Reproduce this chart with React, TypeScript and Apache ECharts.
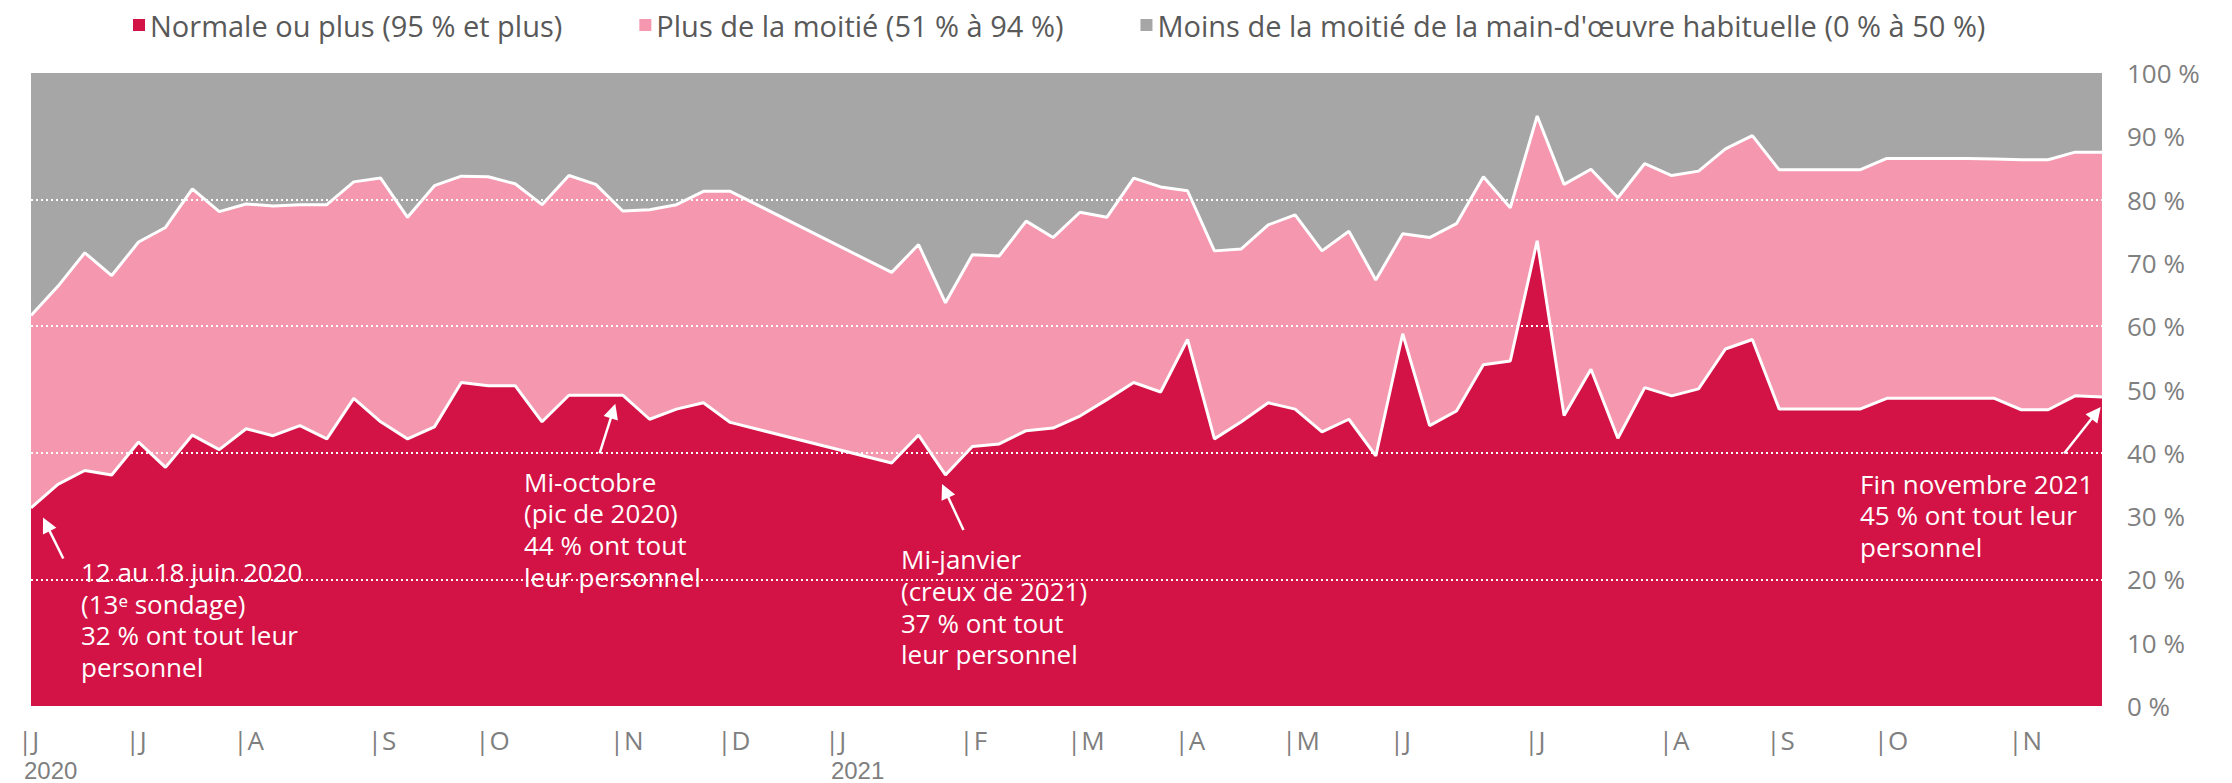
import React, { useEffect, useRef } from "react";
import * as echarts from "echarts";

const FONT = '"Open Sans", "Noto Sans", sans-serif';
const YEAR_FONT = '"Liberation Sans", Arial, sans-serif';
const CRIMSON = "#d31245";
const PINK = "#f597ae";
const GRAY = "#a6a6a6";
const TEXT_GRAY = "#7f7f7f";

const seriesNames = [
  "Normale ou plus (95 % et plus)",
  "Plus de la moitié (51 % à 94 %)",
  "Moins de la moitié de la main-d'œuvre habituelle (0 % à 50 %)",
];

// Weekly survey slots (index 0 = 12 au 18 juin 2020); null = no survey (holiday gap)
// Share of businesses with normal staffing or more (%)
const normale: (number | null)[] = [
  31.3, 35.0, 37.2, 36.5, 41.7, 37.7, 42.8, 40.5, 43.8, 42.7,
  44.3, 42.2, 48.6, 44.9, 42.2, 44.1, 51.1, 50.6, 50.6, 44.9,
  49.1, 49.1, 49.1, 45.3, 46.9, 47.9, 44.8, null, null, null,
  null, null, 38.4, 42.8, 36.5, 41.0, 41.4, 43.5, 43.9, 45.8,
  48.4, 51.1, 49.6, 57.9, 42.2, 44.9, 47.9, 46.9, 43.3, 45.3,
  39.5, 58.8, 44.3, 46.6, 53.9, 54.5, 73.5, 45.9, 53.2, 42.3,
  50.3, 49.0, 50.1, 56.4, 57.9, 46.9, 46.9, 46.9, 46.9, 48.6,
  48.6, 48.6, 48.6, 48.6, 46.8, 46.8, 49.0, 48.8,
];

// Cumulative share with more than half of the usual workforce (%)
const auMoinsMoitie: (number | null)[] = [
  61.7, 66.3, 71.6, 68.0, 73.3, 75.6, 81.7, 78.1, 79.3, 79.0,
  79.2, 79.2, 82.8, 83.4, 77.2, 82.2, 83.7, 83.6, 82.5, 79.2,
  83.8, 82.4, 78.2, 78.4, 79.2, 81.3, 81.3, null, null, null,
  null, null, 68.5, 72.9, 63.7, 71.3, 71.1, 76.6, 74.0, 78.0,
  77.2, 83.4, 82.0, 81.4, 71.9, 72.2, 76.0, 77.6, 71.9, 75.0,
  67.3, 74.6, 74.0, 76.2, 83.6, 78.7, 93.2, 82.4, 84.8, 80.3,
  85.7, 83.8, 84.5, 88.0, 90.1, 84.7, 84.7, 84.7, 84.7, 86.5,
  86.5, 86.5, 86.5, 86.4, 86.3, 86.3, 87.5, 87.5,
];

const monthLabels = ["J", "J", "A", "S", "O", "N", "D", "J", "F", "M", "A", "M", "J", "J", "A", "S", "O", "N"];
const monthStartIndex = [0, 4, 8, 13, 17, 22, 26, 30, 35, 39, 43, 47, 51, 56, 61, 65, 69, 74];
const yearLabels: Record<number, string> = { 0: "2020", 30: "2021" };

const gridValues = [20, 40, 60, 80];

const annotationTexts = [
  "12 au 18 juin 2020\n(13ᵉ sondage)\n32 % ont tout leur\npersonnel",
  "Mi-octobre\n(pic de 2020)\n44 % ont tout\nleur personnel",
  "Mi-janvier\n(creux de 2021)\n37 % ont tout\nleur personnel",
  "Fin novembre 2021\n45 % ont tout leur\npersonnel",
];

const toPairs = (arr: (number | null)[]) =>
  arr.map((v, i) => (v === null ? null : [i, v])).filter((d) => d !== null) as number[][];

export default function App() {
  const ref = useRef<HTMLDivElement>(null);

  useEffect(() => {
    if (!ref.current) return;
    const chart = echarts.init(ref.current, undefined, { renderer: "svg" });

    const textPos = [
      [81, 556],
      [524, 465.7],
      [901, 543.4],
      [1860, 467.7],
    ];

    const arrows = [
      [[1.2, 23.3], [0.57, 28.7]],
      [[21.14, 39.9], [21.64, 46.6]],
      [[34.67, 27.8], [33.99, 34.0]],
      [[75.59, 39.9], [76.78, 46.3]],
    ];

    const colors = [CRIMSON, PINK, GRAY];

    chart.setOption({
      animation: false,
      textStyle: { fontFamily: FONT },
      legend: {
        left: 133,
        top: 8,
        padding: 0,
        itemWidth: 12,
        itemHeight: 12,
        itemGap: 77,
        icon: "rect",
        selectedMode: false,
        textStyle: { fontSize: 29, color: "#595959", fontFamily: FONT, lineHeight: 34 },
        data: seriesNames.map((name, i) => ({ name, itemStyle: { color: colors[i] } })),
      },
      grid: {
        left: 31,
        right: 130,
        top: 73,
        bottom: 77,
        containLabel: false,
        outerBoundsMode: "none",
      },
      xAxis: {
        type: "value",
        min: 0,
        max: 77,
        interval: 1,
        axisLine: { show: false },
        axisTick: { show: false },
        splitLine: { show: false },
        axisLabel: {
          show: true,
          margin: 18,
          align: "left",
          padding: [0, 0, 0, -13],
          fontSize: 26,
          lineHeight: 32,
          color: TEXT_GRAY,
          fontFamily: FONT,
          showMinLabel: true,
          showMaxLabel: true,
          rich: {
            y: {
              fontSize: 24,
              lineHeight: 28,
              color: TEXT_GRAY,
              fontFamily: YEAR_FONT,
              padding: [0, 0, 0, 6],
            },
          },
          formatter: (val: number) => {
            const i = Math.round(val);
            if (Math.abs(val - i) > 1e-6) return "";
            const k = monthStartIndex.indexOf(i);
            if (k < 0) return "";
            const y = yearLabels[i];
            return y ? `|${monthLabels[k]}\n{y|${y}}` : `|${monthLabels[k]}`;
          },
        },
      },
      yAxis: {
        type: "value",
        position: "right",
        min: 0,
        max: 100,
        interval: 10,
        axisLine: { show: false },
        axisTick: { show: false },
        splitLine: { show: false },
        axisLabel: {
          margin: 25,
          fontSize: 26,
          color: TEXT_GRAY,
          fontFamily: FONT,
          formatter: (v: number) => `${v} %`,
        },
      },
      series: [
        {
          name: seriesNames[2],
          type: "line",
          data: toPairs(auMoinsMoitie),
          symbol: "none",
          silent: true,
          lineStyle: { width: 0, color: GRAY },
          itemStyle: { color: GRAY },
          areaStyle: { color: GRAY, opacity: 1, origin: "end" },
          markLine: {
            silent: true,
            symbol: ["none", "none"],
            label: { show: false },
            lineStyle: { color: "#ffffff", width: 2, type: [2, 3], opacity: 1 },
            emphasis: { disabled: true },
            data: gridValues.map((v) => ({ yAxis: v })),
          },
        },
        {
          name: seriesNames[1],
          type: "line",
          data: toPairs(auMoinsMoitie),
          symbol: "none",
          silent: true,
          lineStyle: { width: 3, color: "#ffffff" },
          itemStyle: { color: PINK },
          areaStyle: { color: PINK, opacity: 1, origin: "start" },
        },
        {
          name: seriesNames[0],
          type: "line",
          data: toPairs(normale),
          symbol: "none",
          silent: true,
          lineStyle: { width: 3, color: "#ffffff" },
          itemStyle: { color: CRIMSON },
          areaStyle: { color: CRIMSON, opacity: 1, origin: "start" },
          markLine: {
            silent: true,
            symbol: ["none", "triangle"],
            symbolSize: 15,
            label: { show: false },
            itemStyle: { color: "#ffffff" },
            lineStyle: { color: "#ffffff", width: 2.5, type: "solid", opacity: 1 },
            emphasis: { disabled: true },
            data: arrows.map(([a, b]) => [
              { coord: a, lineStyle: { color: "#ffffff" }, itemStyle: { color: "#ffffff" } },
              { coord: b, symbol: "triangle", symbolSize: 15 },
            ]),
          },
        },
      ],
      graphic: annotationTexts.map((t, i) => ({
        type: "text",
        x: textPos[i][0],
        y: textPos[i][1],
        z: 100,
        silent: true,
        style: {
          text: t,
          fill: "#ffffff",
          fontSize: 26,
          fontFamily: FONT,
          lineHeight: 31.7,
          align: "left",
          verticalAlign: "top",
        },
      })),
    });

    return () => chart.dispose();
  }, []);

  return (
    <div
      ref={ref}
      style={{ position: "absolute", left: 0, top: 0, width: 2232, height: 783 }}
    />
  );
}
